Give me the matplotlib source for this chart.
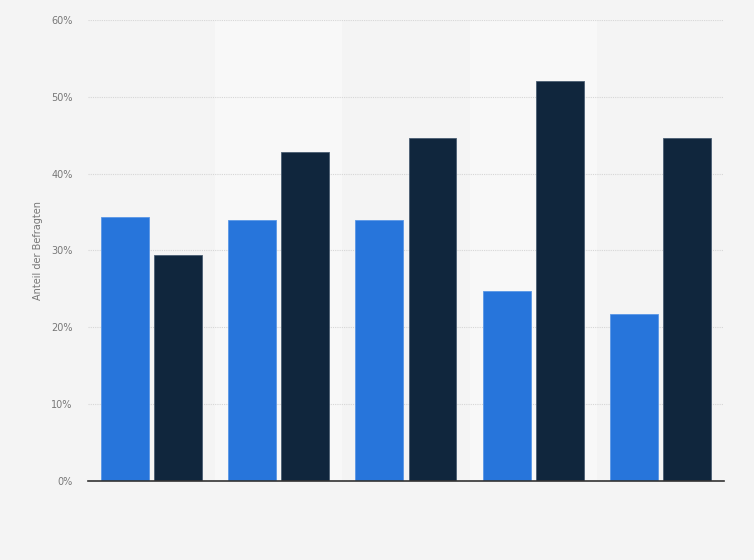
import numpy as np
import matplotlib.pyplot as plt
from matplotlib.ticker import FuncFormatter

# Werte (in %) je Gruppe
series_a = [34.4, 34.0, 34.0, 24.7, 21.7]
series_b = [29.4, 42.8, 44.7, 52.0, 44.7]
y_ticks = [0, 10, 20, 30, 40, 50, 60]

color_a = '#2775db'
color_b = '#10263d'
bg = '#f4f4f4'

fig = plt.figure(figsize=(7.54, 5.60), dpi=100)
fig.patch.set_facecolor(bg)
ax = fig.add_axes([0.1167, 0.1411, 0.8435, 0.8232])
ax.set_facecolor(bg)

n = len(series_a)
x = np.arange(n)
width = 0.377
gap = 0.04

# abwechselnde Hintergrundstreifen
for i in range(n):
    if i % 2 == 1:
        ax.axvspan(i - 0.5, i + 0.5, color='#f8f8f8', zorder=0, lw=0)

ax.bar(x - (width + gap) / 2, series_a, width, color=color_a,
       edgecolor='#5a97e6', linewidth=0.6, zorder=3)
ax.bar(x + (width + gap) / 2, series_b, width, color=color_b,
       edgecolor='#4a5d72', linewidth=0.6, zorder=3)

ax.set_xlim(-0.5, n - 0.5)
ax.set_ylim(0, 60)
ax.set_yticks(y_ticks)
ax.yaxis.set_major_formatter(FuncFormatter(lambda v, _: f'{v:.0f}%'))
ax.set_xticks([])
ax.grid(axis='y', color='#d6d6d6', linestyle=(0, (1, 1)), linewidth=0.8, zorder=1)

for s in ['top', 'right', 'left']:
    ax.spines[s].set_visible(False)
ax.spines['bottom'].set_color('#333333')
ax.spines['bottom'].set_linewidth(1.2)
ax.spines['bottom'].set_zorder(4)
ax.tick_params(axis='y', length=0, labelsize=7, labelcolor='#777777', pad=11)

ax.set_ylabel('Anteil der Befragten', fontsize=7, color='#777777', labelpad=6)

fig.savefig('out.png', dpi=100, facecolor=bg)
